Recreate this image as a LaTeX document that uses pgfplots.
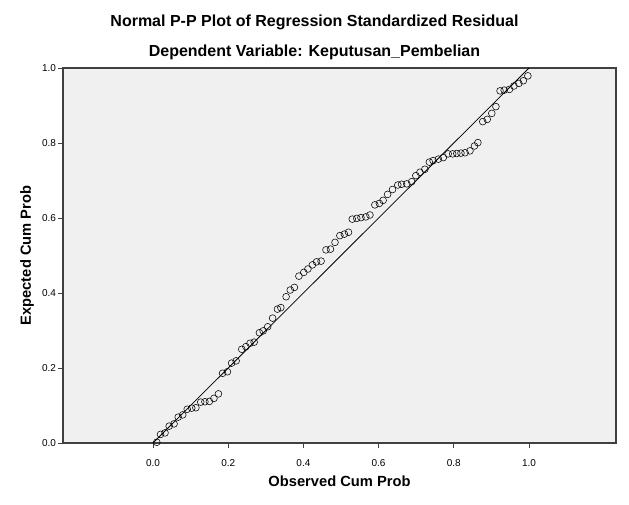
\documentclass[border=0pt]{standalone}
\usepackage{pgfplots}
\pgfplotsset{compat=1.18}
\usepackage{fontspec}
\setmainfont{Liberation Sans}
\definecolor{plotbg}{HTML}{F0F0F0}
\definecolor{framegray}{HTML}{404040}

\begin{document}
\begin{tikzpicture}
\begin{axis}[
  scale only axis, width=553pt, height=375pt,
  xmin=-0.2394, xmax=1.2314, ymin=0, ymax=1,
  axis background/.style={fill=plotbg},
  axis line style={framegray, line width=1.3pt},
  xtick={0,0.2,0.4,0.6,0.8,1.0},
  ytick={0,0.2,0.4,0.6,0.8,1.0},
  xtick pos=bottom, ytick pos=left,
  tick align=outside, major tick length=4.5pt,
  tick style={framegray, line width=0.9pt},
  /pgf/number format/.cd, fixed, fixed zerofill, precision=1,
  /pgf/number format/assume math mode=true,
  /pgfplots/.cd,
  ticklabel style={font=\fontsize{10}{12}\selectfont},
  xticklabel style={yshift=-8pt},
  yticklabel style={xshift=1pt},
  clip=false,
]
% diagonal reference line
\addplot[black, line width=0.8pt] coordinates {(0,0) (1,1)};

% observed vs expected cumulative probabilities
\addplot[only marks, mark=o, mark size=3.4pt, mark options={black, line width=0.55pt}] table {
0.010 0.002
0.020 0.023
0.032 0.027
0.043 0.045
0.056 0.051
0.067 0.069
0.079 0.075
0.091 0.090
0.103 0.093
0.114 0.094
0.127 0.109
0.138 0.110
0.150 0.111
0.162 0.119
0.174 0.131
0.185 0.186
0.198 0.190
0.209 0.213
0.221 0.219
0.236 0.250
0.247 0.257
0.258 0.266
0.269 0.269
0.283 0.294
0.293 0.299
0.305 0.310
0.318 0.333
0.331 0.357
0.340 0.361
0.354 0.390
0.365 0.408
0.376 0.415
0.388 0.445
0.401 0.455
0.412 0.464
0.424 0.475
0.435 0.483
0.447 0.485
0.460 0.515
0.472 0.517
0.484 0.535
0.497 0.553
0.509 0.557
0.520 0.562
0.530 0.597
0.542 0.599
0.553 0.601
0.566 0.603
0.577 0.608
0.590 0.635
0.602 0.639
0.612 0.647
0.624 0.663
0.637 0.676
0.651 0.688
0.661 0.690
0.675 0.691
0.688 0.697
0.699 0.713
0.710 0.722
0.723 0.730
0.735 0.749
0.745 0.753
0.759 0.757
0.772 0.761
0.785 0.771
0.797 0.771
0.808 0.772
0.819 0.773
0.830 0.774
0.843 0.779
0.855 0.792
0.864 0.801
0.877 0.857
0.889 0.863
0.901 0.879
0.912 0.897
0.923 0.939
0.934 0.941
0.948 0.943
0.960 0.952
0.973 0.959
0.985 0.966
0.997 0.979
};
\end{axis}

% titles and axis labels, placed relative to the plot frame
\node[font=\fontsize{16}{18}\selectfont\bfseries] at ([shift={(251.5pt,421pt)}]current axis.south west) {Normal P-P Plot of Regression Standardized Residual};
\node[font=\fontsize{16}{18}\selectfont\bfseries] at ([shift={(251.5pt,391pt)}]current axis.south west) {Dependent Variable: Keputusan\_Pembelian};
\node[font=\fontsize{14.7}{16}\selectfont\bfseries] at ([shift={(276.5pt,-38pt)}]current axis.south west) {Observed Cum Prob};
\node[font=\fontsize{14.7}{16}\selectfont\bfseries, rotate=90] at ([shift={(-36pt,187.5pt)}]current axis.south west) {Expected Cum Prob};

\pgfresetboundingbox
\path ([shift={(-63pt,-61pt)}]current axis.south west) rectangle ++(629pt,504pt);
\end{tikzpicture}
\end{document}
